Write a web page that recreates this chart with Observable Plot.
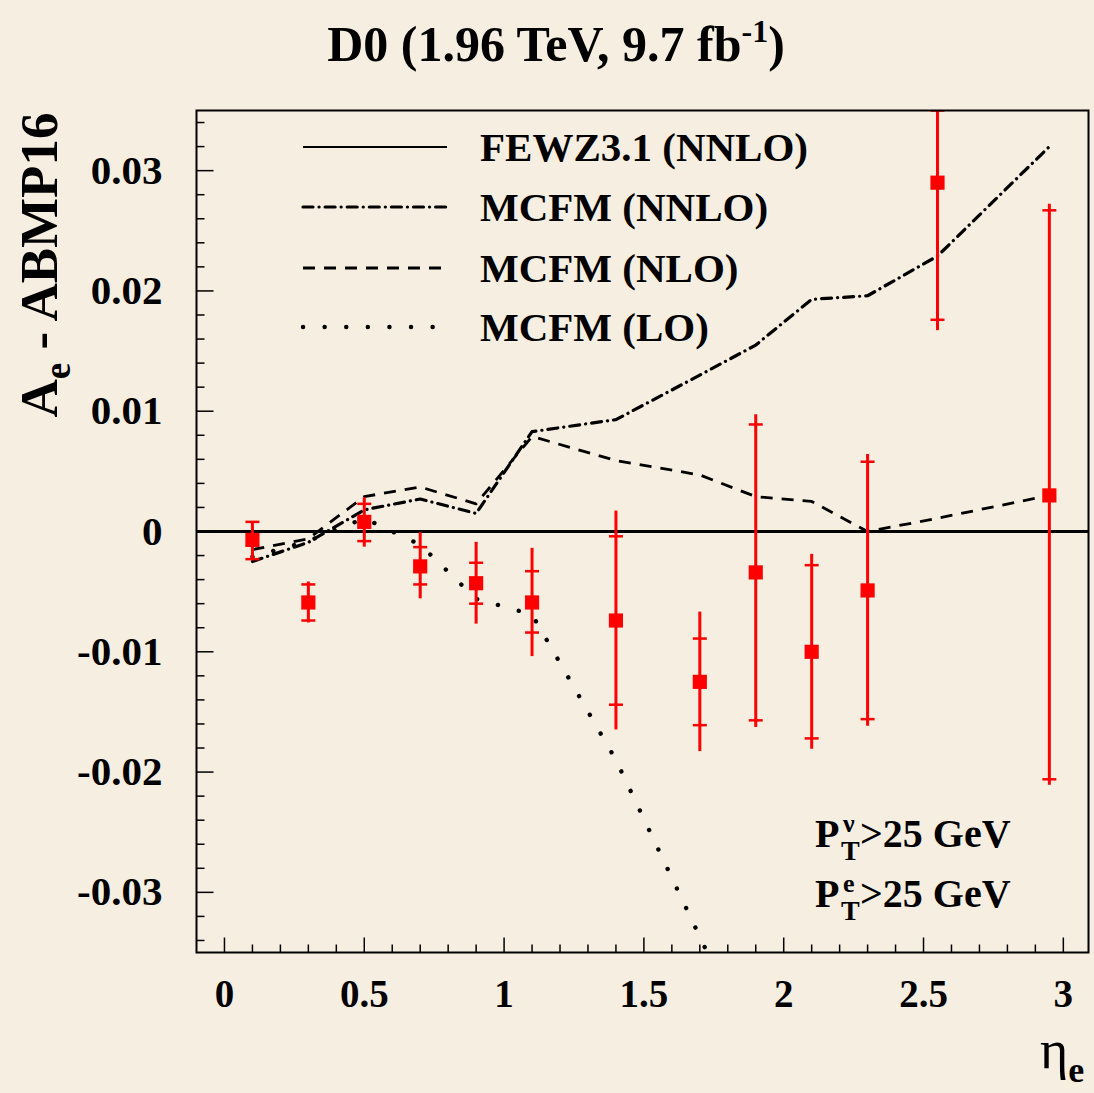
<!DOCTYPE html>
<html><head><meta charset="utf-8">
<script src="https://cdn.jsdelivr.net/npm/d3@7"></script>
<script src="https://cdn.jsdelivr.net/npm/@observablehq/plot@0.6"></script>
<style>
html,body{margin:0;padding:0;background:#f6efe1;}
svg{display:block}
</style></head><body><div id="chart"></div>
<script>
// ---- data ----
const etaData  = [0.1, 0.3, 0.5, 0.7, 0.9, 1.1, 1.4, 1.7, 1.9, 2.1, 2.3, 2.55, 2.95];
const asymData = [-0.0007, -0.0059, 0.0008, -0.0029, -0.0043, -0.0059, -0.0074, -0.0125, -0.0034, -0.0100, -0.0049, 0.0290, 0.0030];
const statLo   = [-0.0023, -0.0074, -0.0008, -0.0044, -0.0060, -0.0084, -0.0144, -0.0161, -0.0157, -0.0172, -0.0156, 0.0176, -0.0206];
const statHi   = [0.0008, -0.0044, 0.0023, -0.0013, -0.0026, -0.0033, -0.0004, -0.0089, 0.0089, -0.0028, 0.0058, 0.0350, 0.0267];
const totLo    = [-0.0023, -0.0076, -0.0013, -0.0056, -0.0077, -0.0104, -0.0165, -0.0183, -0.0163, -0.0181, -0.0162, 0.0167, -0.0211];
const totHi    = [0.0008, -0.0042, 0.0028, -0.0001, -0.0009, -0.0014, 0.0017, -0.0067, 0.0097, -0.0019, 0.0064, 0.0360, 0.0272];

const thEta    = [0.1, 0.3, 0.5, 0.7, 0.9, 1.1, 1.4, 1.7, 1.9, 2.1, 2.3, 2.55, 2.95];
const mcfmNNLO = [-0.0025, -0.0009, 0.0018, 0.0027, 0.0015, 0.0083, 0.0093, 0.0130, 0.0155, 0.0193, 0.0196, 0.0229, 0.0320];
const mcfmNLO  = [-0.0015, -0.0006, 0.0029, 0.0037, 0.0023, 0.0079, 0.0059, 0.0047, 0.0029, 0.0025, 0.0000, 0.0011, 0.0030];
const loEta    = [0.1, 0.3, 0.5, 0.7, 0.9, 1.1, 1.4, 1.7, 1.9];
const mcfmLO   = [-0.0021, -0.0008, 0.0011, -0.0011, -0.0056, -0.0069, -0.0190, -0.0337, -0.0435];

const seriesNames = ["FEWZ3.1 (NNLO)", "MCFM (NNLO)", "MCFM (NLO)", "MCFM (LO)"];
const yMajor = [-0.03, -0.02, -0.01, 0, 0.01, 0.02, 0.03];
const xMajor = [0, 0.5, 1, 1.5, 2, 2.5, 3];

// ---- styles ----
const seriesStyle = {
  "FEWZ3.1 (NNLO)": {dash: null, width: 2.2, cap: "butt"},
  "MCFM (NNLO)":    {dash: "10,6,0.1,6", width: 3.2, cap: "round"},
  "MCFM (NLO)":     {dash: "12,9", width: 2.8, cap: "butt"},
  "MCFM (LO)":      {dash: "0.1,21.5", width: 4.4, cap: "round"}
};

const points = etaData.map((x, i) => ({x, y: asymData[i], sLo: statLo[i], sHi: statHi[i], tLo: totLo[i], tHi: totHi[i]}));
const nnlo = thEta.map((x, i) => ({x, y: mcfmNNLO[i]}));
const nlo  = thEta.map((x, i) => ({x, y: mcfmNLO[i]}));
const lo   = loEta.map((x, i) => ({x, y: mcfmLO[i]}));

const yMinor = d3.range(-34, 35, 2).map(v => v / 1000).filter(v => !yMajor.some(m => Math.abs(m - v) < 1e-9));
const xMinor = d3.range(0, 31).map(v => v / 10).filter(v => !xMajor.some(m => Math.abs(m - v) < 1e-9));

const hbar = {draw(ctx, size) { const w = Math.sqrt(size / Math.PI); ctx.moveTo(-w, 0); ctx.lineTo(w, 0); }};
const tickRight = L => ({draw(ctx) { ctx.moveTo(0, 0); ctx.lineTo(L, 0); }});
const tickUp = L => ({draw(ctx) { ctx.moveTo(0, 0); ctx.lineTo(0, -L); }});
const red = "#ff0000";
const fmtY = d => d === 0 ? "0" : String(+d.toFixed(2));

const lineMark = (data, name) => Plot.line(data, {
  x: "x", y: "y", stroke: "#000", strokeWidth: seriesStyle[name].width,
  strokeDasharray: seriesStyle[name].dash, strokeLinecap: seriesStyle[name].cap, clip: true
});

const chart = Plot.plot({
  width: 1094, height: 1093,
  marginLeft: 196, marginRight: 6, marginTop: 110, marginBottom: 141,
  style: {background: "#f6efe1", fontFamily: "'Liberation Serif', 'Times New Roman', serif", fontWeight: "bold", fontSize: "39px", color: "#000"},
  x: {domain: [-0.1, 3.09]},
  y: {domain: [-0.035, 0.035]},
  marks: [
    Plot.ruleY([0], {stroke: "#000", strokeWidth: 3}),
    lineMark(nlo, "MCFM (NLO)"),
    lineMark(lo, "MCFM (LO)"),
    lineMark(nnlo, "MCFM (NNLO)"),
    Plot.ruleX(points, {x: "x", y1: "tLo", y2: "tHi", stroke: red, strokeWidth: 3, clip: true}),
    Plot.dot(points, {x: "x", y: "sLo", symbol: hbar, r: 7, stroke: red, fill: "none", strokeWidth: 2.5, clip: true}),
    Plot.dot(points, {x: "x", y: "sHi", symbol: hbar, r: 7, stroke: red, fill: "none", strokeWidth: 2.5, clip: true}),
    Plot.dot(points, {x: "x", y: "y", symbol: "square", r: 8, fill: red, stroke: "none"}),
    Plot.dot(yMajor, {y: d => d, frameAnchor: "left", symbol: tickRight(17), stroke: "#000", fill: "none", strokeWidth: 1.5}),
    Plot.dot(yMinor, {y: d => d, frameAnchor: "left", symbol: tickRight(8), stroke: "#000", fill: "none", strokeWidth: 1.5}),
    Plot.dot(xMajor, {x: d => d, frameAnchor: "bottom", symbol: tickUp(15), stroke: "#000", fill: "none", strokeWidth: 1.5}),
    Plot.dot(xMinor, {x: d => d, frameAnchor: "bottom", symbol: tickUp(8), stroke: "#000", fill: "none", strokeWidth: 1.5}),
    Plot.axisY({ticks: yMajor, tickSize: 0, tickPadding: 34, tickFormat: fmtY, label: null, fontSize: 41}),
    Plot.axisX({ticks: xMajor, tickSize: 0, tickPadding: 27, tickFormat: d => String(d), label: null}),
    Plot.frame({stroke: "#000", strokeWidth: 2})
  ]
});

const svg = d3.select(chart);
const F = "'Liberation Serif', 'Times New Roman', serif";

// title
const t = svg.append("text").attr("x", 556).attr("y", 61).attr("text-anchor", "middle")
  .attr("font-family", F).attr("font-weight", "bold").attr("font-size", 50).attr("fill", "#000");
t.append("tspan").text("D0 (1.96 TeV, 9.7 fb");
t.append("tspan").attr("dy", -19).attr("font-size", 32).text("-1");
t.append("tspan").attr("dy", 19).text(")");

// y label
const yl = svg.append("text").attr("transform", "translate(57,265) rotate(-90)").attr("text-anchor", "middle")
  .attr("font-family", F).attr("font-weight", "bold").attr("font-size", 53).attr("fill", "#000");
yl.append("tspan").text("A");
yl.append("tspan").attr("dy", 13).attr("font-size", 37).text("e");
yl.append("tspan").attr("dy", -13).text(" - ABMP16");

// x label
const xl = svg.append("text").attr("x", 1040).attr("y", 1068).attr("text-anchor", "start")
  .attr("font-family", F).attr("font-weight", "normal").attr("font-size", 54).attr("fill", "#000");
xl.append("tspan").text("η");
xl.append("tspan").attr("dy", 14).attr("font-size", 36).attr("font-weight", "bold").text("e");

// legend
const legendY = [147, 207, 268, 327];
seriesNames.forEach((name, i) => {
  const st = seriesStyle[name];
  svg.append("line").attr("x1", 303).attr("x2", 447).attr("y1", legendY[i]).attr("y2", legendY[i])
    .attr("stroke", "#000").attr("stroke-width", st.width).attr("stroke-linecap", st.cap)
    .attr("stroke-dasharray", st.dash);
  svg.append("text").attr("x", 480).attr("y", legendY[i] + 14).attr("text-anchor", "start").attr("font-family", F)
    .attr("font-weight", "bold").attr("font-size", 41).attr("fill", "#000").text(name);
});

// cut annotations (single text element each, with stacked sub/superscript)
const cuts = [{sup: "ν", base: 847}, {sup: "e", base: 907}];
cuts.forEach(c => {
  const tx = svg.append("text").attr("x", 815).attr("y", c.base).attr("text-anchor", "start")
    .attr("font-family", F).attr("font-weight", "bold").attr("fill", "#000").attr("font-size", 40);
  tx.append("tspan").text("P");
  tx.append("tspan").attr("x", 841).attr("y", c.base + 13).attr("font-size", 28).text("T");
  tx.append("tspan").attr("x", 843).attr("y", c.base - 15).attr("font-size", 26).text(c.sup);
  tx.append("tspan").attr("x", 860).attr("y", c.base).text(">25 GeV");
});

document.getElementById("chart").appendChild(chart);
</script>
</body></html>
